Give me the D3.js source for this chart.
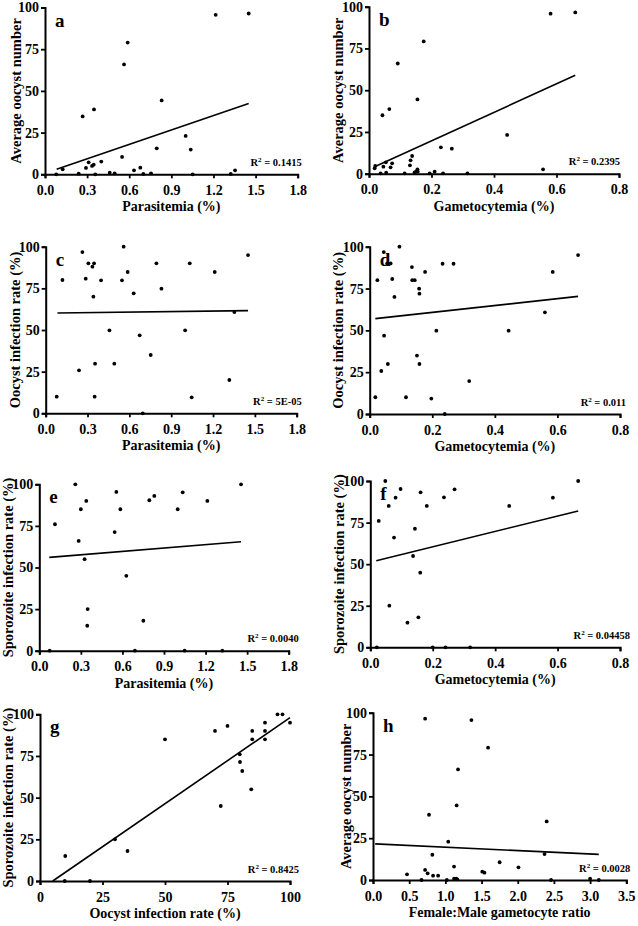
<!DOCTYPE html>
<html>
<head>
<meta charset="utf-8">
<script src="https://cdn.jsdelivr.net/npm/d3@7"></script>
<style>
  html, body { margin: 0; padding: 0; background: #fff; }
  svg { display: block; }
  text { font-family: "Liberation Serif", "Times New Roman", serif; font-weight: bold; fill: #000; }
</style>
</head>
<body>
<svg id="chart" width="638" height="926"></svg>
<script>
// ---------- DATA ----------
const parasitemiaTicks = [0, 0.3, 0.6, 0.9, 1.2, 1.5, 1.8];
const gametocytemiaTicks = [0, 0.2, 0.4, 0.6, 0.8];
const percentTicks = [0, 25, 50, 75, 100];
const ratioTicks = [0, 0.5, 1.0, 1.5, 2.0, 2.5, 3.0, 3.5];

// a: Parasitemia vs Average oocyst number
const aX = [0.08, 0.126, 0.24, 0.268, 0.292, 0.311, 0.335, 0.347, 0.349, 0.358, 0.401, 0.461, 0.496, 0.549, 0.563, 0.589, 0.634, 0.679, 0.70, 0.755, 0.796, 0.831, 1.002, 1.038, 1.052, 1.216, 1.323, 1.354, 1.451];
const aY = [0, 3.0, 0.4, 34.7, 3.8, 7.2, 5.0, 5.8, 38.9, 0, 7.6, 1.0, 0.6, 10.4, 65.9, 79.0, 2.4, 4.0, 0.2, 0.6, 15.6, 44.3, 23.0, 14.8, 0, 95.6, 0.2, 2.4, 96.4];
const aFit = [[0.083, 3.0], [1.451, 42.5]];

// b: Gametocytemia vs Average oocyst number
const bX = [0.018, 0.02, 0.037, 0.043, 0.046, 0.054, 0.055, 0.065, 0.069, 0.074, 0.092, 0.114, 0.131, 0.133, 0.138, 0.146, 0.151, 0.155, 0.155, 0.156, 0.175, 0.194, 0.21, 0.23, 0.237, 0.265, 0.315, 0.442, 0.557, 0.581, 0.66];
const bY = [3.2, 4.6, 0.2, 35, 4.2, 6.8, 0.6, 38.7, 3.8, 6.2, 66, 0.2, 5, 8, 10.6, 0.8, 1.2, 2.6, 44.5, 1.2, 79.2, 0.2, 1.2, 15.8, 0.2, 15, 0.2, 23.2, 2.6, 95.8, 96.6];
const bFit = [[0.018, 4.2], [0.66, 58.9]];

// c: Parasitemia vs Oocyst infection rate
const cX = [0.079, 0.12, 0.239, 0.263, 0.287, 0.306, 0.335, 0.347, 0.342, 0.354, 0.351, 0.397, 0.457, 0.492, 0.547, 0.559, 0.588, 0.631, 0.674, 0.696, 0.753, 0.794, 0.83, 1.0, 1.033, 1.047, 1.212, 1.317, 1.353, 1.451];
const cY = [10, 80, 25.8, 96.8, 80.8, 90, 88, 90, 70, 29.8, 10, 79.8, 49.8, 29.8, 79.8, 100, 84.8, 72, 46.8, 0, 35, 90, 74.8, 49.8, 90, 9.6, 84.8, 20, 60.8, 95];
const cFit = [[0.084, 60.2], [1.451, 61.6]];

// d: Gametocytemia vs Oocyst infection rate
const dX = [0.018, 0.0245, 0.037, 0.045, 0.046, 0.058, 0.056, 0.067, 0.072, 0.079, 0.095, 0.116, 0.135, 0.136, 0.144, 0.151, 0.158, 0.159, 0.159, 0.177, 0.197, 0.213, 0.233, 0.24, 0.268, 0.318, 0.444, 0.56, 0.585, 0.666];
const dY = [10, 80, 25.7, 96.8, 46.8, 29.9, 90, 90, 80.7, 70, 100, 10, 87.8, 80, 80, 34.9, 74.9, 71.9, 29.9, 84.9, 9.2, 49.8, 89.8, 0, 89.8, 19.7, 49.8, 60.8, 84.9, 95];
const dFit = [[0.018, 57], [0.666, 70.3]];

// e: Parasitemia vs Sporozoite infection rate
const eX = [0.075, 0.113, 0.26, 0.284, 0.30, 0.327, 0.339, 0.349, 0.346, 0.544, 0.556, 0.585, 0.628, 0.69, 0.751, 0.794, 0.83, 0.999, 1.035, 1.049, 1.213, 1.321, 1.456];
const eY = [0, 76, 100, 66, 85, 55, 90, 25, 15, 71.3, 95.4, 85, 45, 0, 18, 90.4, 93, 85, 95.2, 0, 90, 0, 100];
const eFit = [[0.072, 56.1], [1.456, 65.5]];

// f: Gametocytemia vs Sporozoite infection rate
const fX = [0.021, 0.027, 0.048, 0.059, 0.061, 0.076, 0.081, 0.097, 0.119, 0.137, 0.143, 0.154, 0.16, 0.161, 0.181, 0.2, 0.236, 0.241, 0.27, 0.32, 0.445, 0.585, 0.666];
const fY = [0, 76, 100, 85, 25, 66, 90, 95.2, 14.8, 54.9, 71.3, 18, 44.9, 93.2, 85, 0, 90.2, 0, 95, 0, 85, 90, 100];
const fFit = [[0.019, 52.1], [0.666, 82]];

// g: Oocyst infection rate vs Sporozoite infection rate
const gX = [10.1, 9.9, 20, 30, 35, 50, 70, 75, 72.3, 79.9, 80, 80.9, 84.5, 84.9, 84.9, 90, 90, 90, 95, 97, 100];
const gY = [15, 0, 0, 25, 18, 85, 90, 93, 45, 76, 71.4, 66, 55, 90, 85, 95, 90, 85, 100, 100, 95];
const gFit = [[5.1, 0], [100, 98]];

// h: Female:Male gametocyte ratio vs Average oocyst number
const hX = [0.47, 0.67, 0.72, 0.72, 0.755, 0.774, 0.82, 0.83, 0.90, 1.02, 1.04, 1.12, 1.12, 1.15, 1.156, 1.165, 1.175, 1.36, 1.51, 1.54, 1.59, 1.75, 2.01, 2.37, 2.40, 2.46, 3.0, 3.12];
const hY = [3.4, 0, 96.4, 6, 4, 39, 15.1, 2.6, 2.6, 0, 22.9, 8, 0.8, 0.8, 44.6, 0.4, 66.1, 95.6, 5, 4.4, 79.1, 10.6, 7.6, 15.5, 35, 0, 0.8, 0];
const hFit = [[0.03, 21.6], [3.12, 15.3]];

const panelLetters = ["a", "b", "c", "d", "e", "f", "g", "h"];
const r2Values = ["0.1415", "0.2395", "5E-05", "0.011", "0.0040", "0.04458", "0.8425", "0.0028"];
const xTitles = ["Parasitemia (%)", "Gametocytemia (%)", "Parasitemia (%)", "Gametocytemia (%)", "Parasitemia (%)", "Gametocytemia (%)", "Oocyst infection rate (%)", "Female:Male gametocyte ratio"];
const yTitles = ["Average oocyst number", "Average oocyst number", "Oocyst infection rate (%)", "Oocyst infection rate (%)", "Sporozoite infection rate (%)", "Sporozoite infection rate (%)", "Sporozoite infection rate (%)", "Average oocyst number"];

// ---------- LAYOUT ----------
const panels = [
  {xs: aX, ys: aY, fit: aFit, xt: parasitemiaTicks, fmt: d3.format(".1f"), box: [45, 297.7, 7.5, 174.3], r2dx: 4, ytOff: -24},
  {xs: bX, ys: bY, fit: bFit, xt: gametocytemiaTicks, fmt: d3.format(".1f"), box: [369, 619, 6.7, 173.7], r2dx: 1, ytOff: -26},
  {xs: cX, ys: cY, fit: cFit, xt: parasitemiaTicks, fmt: d3.format(".1f"), box: [45.7, 296.7, 246.7, 413.3], r2dx: 5, ytOff: -26},
  {xs: dX, ys: dY, fit: dFit, xt: gametocytemiaTicks, fmt: d3.format(".1f"), box: [369.7, 620, 246.7, 414], r2dx: 6, ytOff: -27},
  {xs: eX, ys: eY, fit: eFit, xt: parasitemiaTicks, fmt: d3.format(".1f"), box: [39.3, 288.7, 484.3, 650.7], r2dx: 10, ytOff: -26.5},
  {xs: fX, ys: fY, fit: fFit, xt: gametocytemiaTicks, fmt: d3.format(".1f"), box: [370.3, 620, 481, 647.3], r2dx: 10, ytOff: -26},
  {xs: gX, ys: gY, fit: gFit, xt: percentTicks, fmt: d3.format("d"), box: [40, 290, 714.3, 881], r2dx: 9, ytOff: -27},
  {xs: hX, ys: hY, fit: hFit, xt: ratioTicks, fmt: d3.format(".1f"), box: [373, 626.3, 712.7, 880], r2dx: 4, ytOff: -22.5}
];

const svg = d3.select("#chart");

panels.forEach((p, i) => {
  const [x0, x1, y0, y1] = p.box;
  const xDomain = d3.extent(p.xt);
  const x = d3.scaleLinear().domain(xDomain).range([x0, x1]);
  const y = d3.scaleLinear().domain([0, 100]).range([y1, y0]);
  const g = svg.append("g");

  // axes
  const xAxis = d3.axisBottom(x).tickValues(p.xt).tickFormat(p.fmt).tickSizeOuter(0).tickSize(4).tickPadding(5);
  const yAxis = d3.axisLeft(y).tickValues(percentTicks).tickFormat(d3.format("d")).tickSizeOuter(0).tickSize(4).tickPadding(2);

  const gx = g.append("g").attr("transform", `translate(0,${y1})`).call(xAxis);
  const gy = g.append("g").attr("transform", `translate(${x0},0)`).call(yAxis);
  [gx, gy].forEach(ax => {
    ax.select(".domain").attr("stroke", "#000").attr("stroke-width", 2);
    ax.selectAll(".tick line").attr("stroke", "#000").attr("stroke-width", 1.8);
    ax.selectAll(".tick text").style("font-family", '"Liberation Serif", "Times New Roman", serif')
      .style("font-weight", "bold").style("font-size", "14px").attr("fill", "#000");
  });
  gx.selectAll(".tick text").attr("dy", null).attr("y", 20.5).attr("dominant-baseline", "alphabetic");

  // regression line
  g.append("line")
    .attr("x1", x(p.fit[0][0])).attr("y1", y(p.fit[0][1]))
    .attr("x2", x(p.fit[1][0])).attr("y2", y(p.fit[1][1]))
    .attr("stroke", "#000").attr("stroke-width", 1.6);

  // points
  g.append("g").selectAll("circle")
    .data(p.xs.map((v, k) => [v, p.ys[k]]))
    .join("circle")
    .attr("cx", d => x(d[0])).attr("cy", d => y(d[1]))
    .attr("r", 1.9).attr("fill", "#000");

  // panel letter
  g.append("text")
    .attr("x", x0 + 10).attr("y", y0 + 19)
    .style("font-size", "19px")
    .text(panelLetters[i]);

  // R² label
  const r2 = g.append("text")
    .attr("x", x1 + p.r2dx).attr("y", y1 - 8.5)
    .attr("text-anchor", "end")
    .style("font-size", "10.5px");
  r2.append("tspan").text("R");
  r2.append("tspan").attr("dy", -4).style("font-size", "7px").text("2");
  r2.append("tspan").attr("dy", 4).text(" = " + r2Values[i]);

  // axis titles
  g.append("text")
    .attr("x", (x0 + x1) / 2).attr("y", y1 + 37)
    .attr("text-anchor", "middle")
    .style("font-size", "14px")
    .text(xTitles[i]);
  g.append("text")
    .attr("transform", `translate(${x0 + p.ytOff},${(y0 + y1) / 2}) rotate(-90)`)
    .attr("text-anchor", "middle")
    .style("font-size", "14.5px")
    .text(yTitles[i]);
});
</script>
</body>
</html>
